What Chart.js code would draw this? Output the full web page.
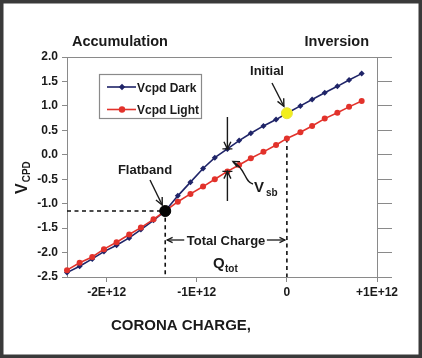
<!DOCTYPE html>
<html lang="en">
<head>
  <meta charset="UTF-8">
  <title>Surface Voltage vs Corona Charge</title>
  <script src="https://cdn.jsdelivr.net/npm/chart.js"></script>
  <style>
    html, body { margin: 0; padding: 0; background: #fff; }
    canvas { display: block; }
  </style>
</head>
<body>
  <canvas id="cpdChart" width="422" height="358" style="width:422px;height:358px"></canvas>

  <script>
    // corona charge (q/cm2) and contact potential difference (V)
    const charge = [-2.44, -2.30, -2.16, -2.03, -1.89, -1.75, -1.62, -1.48, -1.35, -1.21, -1.07, -0.93, -0.80,
                    -0.66, -0.53, -0.40, -0.26, -0.12, 0, 0.15, 0.28, 0.42, 0.56, 0.69, 0.83].map(v => v * 1e12);
    const vDark  = [-2.41, -2.28, -2.13, -1.98, -1.85, -1.70, -1.53, -1.34, -1.15, -0.84, -0.56, -0.28, -0.06,
                    0.12, 0.29, 0.44, 0.59, 0.72, 0.85, 1.00, 1.13, 1.27, 1.40, 1.53, 1.66];
    const vLight = [-2.36, -2.21, -2.09, -1.93, -1.79, -1.63, -1.49, -1.32, -1.15, -0.96, -0.80, -0.65, -0.50,
                    -0.34, -0.21, -0.07, 0.06, 0.20, 0.335, 0.46, 0.59, 0.74, 0.86, 0.98, 1.10];
    const xTicks = [-2e12, -1e12, 0, 1e12];
    const xTickLabels = ['-2E+12', '-1E+12', '0', '+1E+12'];
    const yMin = -2.5, yMax = 2.0, yStep = 0.5;
    const iFlat = 8;   // flatband point
    const iInit = 18;  // initial point (zero charge)
    const iVsb = 13;   // where V_sb is marked

    const FONT = "'Liberation Sans', Arial, sans-serif";
    const NAVY = '#1f2468';
    const RED = '#e2322b';
    const INK = '#1a1a1a';
    const AXIS = '#8a8a8a';

    const pts = ys => ys.map((v, i) => ({ x: charge[i], y: v }));

    function arrowHead(ctx, x1, y1, x2, y2, len) {
      const a = Math.atan2(y2 - y1, x2 - x1);
      ctx.beginPath();
      ctx.moveTo(x2 - len * Math.cos(a - 0.45), y2 - len * Math.sin(a - 0.45));
      ctx.lineTo(x2, y2);
      ctx.lineTo(x2 - len * Math.cos(a + 0.45), y2 - len * Math.sin(a + 0.45));
      ctx.stroke();
    }

    function arrow(ctx, x1, y1, x2, y2, len = 8) {
      ctx.beginPath();
      ctx.moveTo(x1, y1);
      ctx.lineTo(x2, y2);
      ctx.stroke();
      arrowHead(ctx, x1, y1, x2, y2, len);
    }

    const notes = {
      id: 'notes',
      beforeDraw(chart) {
        const { ctx, width, height } = chart;
        ctx.save();
        ctx.fillStyle = '#fff';
        ctx.fillRect(0, 0, width, height);
        ctx.restore();
      },
      afterDraw(chart) {
        const { ctx, chartArea: ca, scales: { x, y } } = chart;
        ctx.save();

        // top frame line of plot
        ctx.strokeStyle = AXIS;
        ctx.lineWidth = 1;
        ctx.beginPath();
        ctx.moveTo(ca.left, ca.top + 0.5);
        ctx.lineTo(ca.right, ca.top + 0.5);
        ctx.stroke();

        // outer picture frame
        ctx.strokeStyle = '#3a3a3a';
        ctx.lineWidth = 3.5;
        ctx.strokeRect(1.75, 1.75, chart.width - 3.5, chart.height - 3.5);

        ctx.fillStyle = INK;
        ctx.strokeStyle = INK;
        ctx.textBaseline = 'alphabetic';

        // region labels
        ctx.font = `bold 14.5px ${FONT}`;
        ctx.textAlign = 'left';
        ctx.fillText('Accumulation', 72, 46);
        ctx.textAlign = 'right';
        ctx.fillText('Inversion', 369, 46);

        // y title  V_CPD
        ctx.save();
        ctx.translate(27, 194);
        ctx.rotate(-Math.PI / 2);
        ctx.textAlign = 'left';
        ctx.font = `bold 16px ${FONT}`;
        ctx.fillText('V', 0, 0);
        const vw = ctx.measureText('V').width;
        ctx.font = `bold 10px ${FONT}`;
        ctx.fillText('CPD', vw + 1, 3);
        ctx.restore();

        // x title
        ctx.font = `bold 15px ${FONT}`;
        ctx.textAlign = 'center';
        ctx.fillText('CORONA CHARGE,', 181, 330);

        // legend
        ctx.strokeStyle = AXIS;
        ctx.lineWidth = 1.2;
        ctx.strokeRect(99.5, 74.5, 102, 44);
        const ds = chart.data.datasets;
        [[0, 87], [1, 109.5]].forEach(([k, ly]) => {
          ctx.strokeStyle = ds[k].borderColor;
          ctx.fillStyle = ds[k].borderColor;
          ctx.lineWidth = 1.6;
          ctx.beginPath();
          ctx.moveTo(107, ly);
          ctx.lineTo(136, ly);
          ctx.stroke();
          ctx.beginPath();
          if (k === 0) {
            ctx.moveTo(122, ly - 3.2); ctx.lineTo(125.2, ly); ctx.lineTo(122, ly + 3.2); ctx.lineTo(118.8, ly);
          } else {
            ctx.arc(122, ly, 3.2, 0, Math.PI * 2);
          }
          ctx.fill();
          ctx.fillStyle = INK;
          ctx.font = `bold 12px ${FONT}`;
          ctx.textAlign = 'left';
          ctx.fillText(ds[k].label, 137, ly + 4.5);
        });

        ctx.fillStyle = INK;
        ctx.strokeStyle = INK;
        ctx.lineWidth = 1.4;

        // Initial
        const ix = x.getPixelForValue(charge[iInit]);
        const iy = y.getPixelForValue(vDark[iInit]);
        ctx.font = `bold 13px ${FONT}`;
        ctx.textAlign = 'center';
        ctx.fillText('Initial', 267, 75);
        arrow(ctx, 272, 83, ix - 3, iy - 7, 8);

        // Flatband
        const fx = x.getPixelForValue(charge[iFlat]);
        const fy = y.getPixelForValue(vDark[iFlat]);
        ctx.fillText('Flatband', 145, 174);
        arrow(ctx, 150, 180, fx - 3, fy - 6, 8);

        // V_sb markers
        const sx = x.getPixelForValue(charge[iVsb]);
        const sd = y.getPixelForValue(vDark[iVsb]);
        const sl = y.getPixelForValue(vLight[iVsb]);
        arrow(ctx, sx, 117, sx, sd, 8);
        arrow(ctx, sx, 201, sx, sl, 8);
        ctx.beginPath();
        ctx.moveTo(sx - 5, sd); ctx.lineTo(sx + 5, sd);
        ctx.moveTo(sx - 5, sl); ctx.lineTo(sx + 5, sl);
        ctx.stroke();

        // curved arrow to V_sb
        ctx.beginPath();
        ctx.moveTo(253, 184);
        ctx.bezierCurveTo(244, 182, 246, 168, 233, 162);
        ctx.stroke();
        arrowHead(ctx, 240, 165, 233, 161.5, 7);
        ctx.font = `bold 15px ${FONT}`;
        ctx.textAlign = 'left';
        ctx.fillText('V', 254, 192);
        ctx.font = `bold 10px ${FONT}`;
        ctx.fillText('sb', 266, 196);

        // Total charge
        const zx = x.getPixelForValue(0);
        ctx.font = `bold 13px ${FONT}`;
        ctx.textAlign = 'center';
        ctx.fillText('Total Charge', (fx + zx) / 2, 245);
        ctx.lineWidth = 1.3;
        arrow(ctx, fx + 19, 240, fx + 2, 240, 6);
        arrow(ctx, zx - 20, 240, zx - 2, 240, 6);
        ctx.font = `bold 15px ${FONT}`;
        ctx.textAlign = 'left';
        ctx.fillText('Q', 213, 268);
        ctx.font = `bold 10px ${FONT}`;
        ctx.fillText('tot', 225, 272);

        ctx.restore();
      }
    };

    const dashed = { borderColor: '#111', borderWidth: 1.6, borderDash: [4, 3.5], pointRadius: 0, fill: false, order: 3 };

    new Chart(document.getElementById('cpdChart').getContext('2d'), {
      type: 'line',
      data: {
        datasets: [
          {
            label: 'Vcpd Dark',
            data: pts(vDark),
            borderColor: NAVY,
            backgroundColor: NAVY,
            borderWidth: 1.6,
            pointStyle: 'rectRot',
            pointRadius: 3,
            pointBorderWidth: 0,
            order: 2
          },
          {
            label: 'Vcpd Light',
            data: pts(vLight),
            borderColor: RED,
            backgroundColor: RED,
            borderWidth: 1.6,
            pointStyle: 'circle',
            pointRadius: 3,
            pointBorderWidth: 0,
            order: 1
          },
          Object.assign({ label: 'flatband level', data: [
            { x: charge[0], y: vDark[iFlat] }, { x: charge[iFlat], y: vDark[iFlat] }, { x: charge[iFlat], y: yMin }
          ] }, dashed),
          Object.assign({ label: 'zero charge', data: [
            { x: charge[iInit], y: vLight[iInit] }, { x: charge[iInit], y: yMin }
          ] }, dashed),
          {
            label: 'Flatband',
            data: [{ x: charge[iFlat], y: vDark[iFlat] }],
            showLine: false,
            pointRadius: 5.5,
            backgroundColor: '#050505',
            borderColor: '#050505',
            order: 0
          },
          {
            label: 'Initial',
            data: [{ x: charge[iInit], y: vDark[iInit] }],
            showLine: false,
            pointRadius: 5.5,
            backgroundColor: '#f2ee1c',
            borderColor: '#e8e43a',
            order: 0
          }
        ]
      },
      options: {
        responsive: false,
        animation: false,
        devicePixelRatio: 1,
        clip: false,
        layout: { padding: { top: 57, right: 0, bottom: 0, left: 0 } },
        plugins: { legend: { display: false }, tooltip: { enabled: false } },
        scales: {
          x: {
            type: 'linear',
            min: charge[0],
            max: 1e12,
            afterBuildTicks: s => { s.ticks = xTicks.map(v => ({ value: v })); },
            afterFit: s => { s.height = 81; },
            ticks: {
              color: INK,
              padding: 3,
              maxRotation: 0,
              font: { family: FONT, size: 12, weight: 'bold' },
              callback: v => xTickLabels[xTicks.indexOf(v)]
            },
            grid: { drawOnChartArea: false, tickLength: 5, color: AXIS },
            border: { color: AXIS, width: 1 }
          },
          y: {
            position: 'left',
            min: yMin,
            max: yMax,
            afterFit: s => { s.width = 67; },
            ticks: {
              stepSize: yStep,
              color: INK,
              padding: 4,
              font: { family: FONT, size: 12, weight: 'bold' },
              callback: v => v.toFixed(1)
            },
            grid: { drawOnChartArea: false, tickLength: 5, color: AXIS },
            border: { color: AXIS, width: 1 }
          },
          y2: {
            position: 'right',
            min: yMin,
            max: yMax,
            afterFit: s => { s.width = 45; },
            ticks: { stepSize: yStep, display: false },
            grid: { drawOnChartArea: false, tickLength: 15, color: AXIS },
            border: { color: AXIS, width: 1 }
          }
        }
      },
      plugins: [notes]
    });
  </script>
</body>
</html>
